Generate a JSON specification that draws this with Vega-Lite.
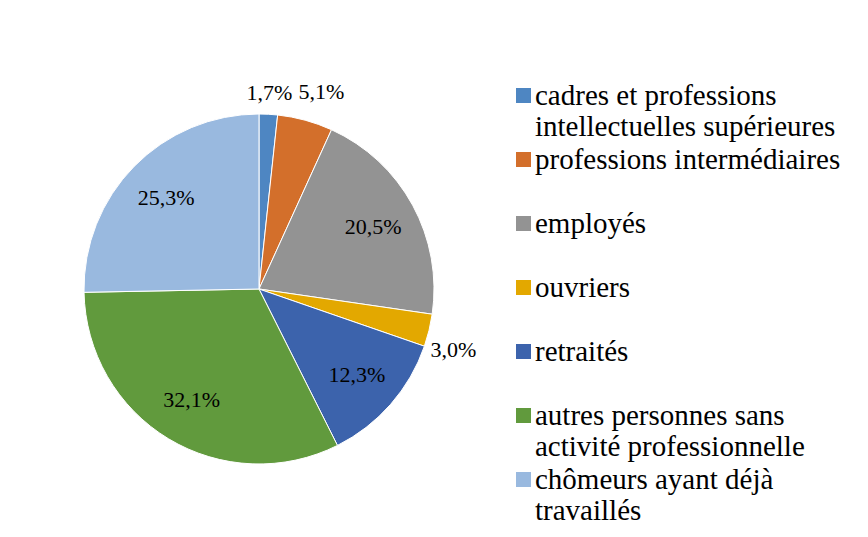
{
  "$schema": "https://vega.github.io/schema/vega-lite/v6.json",
  "width": 350,
  "height": 350,
  "autosize": {"type": "none"},
  "padding": {"left": 84, "top": 114, "right": 434, "bottom": 73},
  "background": "white",
  "config": {"view": {"stroke": null}, "font": "Liberation Serif, DejaVu Serif, serif"},
  "data": {
    "values": [
      {"categorie": "cadres et professions intellectuelles supérieures", "pct": 1.7, "etiquette": "1,7%", "rang": 1},
      {"categorie": "professions intermédiaires", "pct": 5.1, "etiquette": "5,1%", "rang": 2},
      {"categorie": "employés", "pct": 20.5, "etiquette": "20,5%", "rang": 3},
      {"categorie": "ouvriers", "pct": 3.0, "etiquette": "3,0%", "rang": 4},
      {"categorie": "retraités", "pct": 12.3, "etiquette": "12,3%", "rang": 5},
      {"categorie": "autres personnes sans activité professionnelle", "pct": 32.1, "etiquette": "32,1%", "rang": 6},
      {"categorie": "chômeurs ayant déjà travaillés", "pct": 25.3, "etiquette": "25,3%", "rang": 7}
    ]
  },
  "encoding": {
    "theta": {"field": "pct", "type": "quantitative", "stack": true},
    "order": {"field": "rang", "type": "quantitative"}
  },
  "layer": [
    {
      "mark": {"type": "arc", "stroke": "white", "strokeWidth": 1},
      "encoding": {
        "color": {
          "field": "categorie",
          "type": "nominal",
          "sort": null,
          "scale": {
            "domain": ["cadres et professions intellectuelles supérieures", "professions intermédiaires", "employés", "ouvriers", "retraités", "autres personnes sans activité professionnelle", "chômeurs ayant déjà travaillés"],
            "range": ["#4E86C2", "#D36F2B", "#939393", "#E3A800", "#3C63AC", "#619A3D", "#99B9DF"]
          },
          "legend": {
            "title": null,
            "orient": "none",
            "legendX": 425,
            "legendY": -33,
            "padding": 0,
            "symbolType": "square",
            "symbolSize": 225,
            "symbolStrokeWidth": 0,
            "labelFont": "Liberation Serif, DejaVu Serif, serif",
            "labelFontSize": 29,
            "labelColor": "#000000",
            "labelLimit": 400,
            "labelOffset": -3,
            "labelBaseline": "middle",
            "rowPadding": 3,
            "labelExpr": "datum.label == 'cadres et professions intellectuelles supérieures' ? ['cadres et professions', 'intellectuelles supérieures'] : datum.label == 'autres personnes sans activité professionnelle' ? ['autres personnes sans', 'activité professionnelle'] : datum.label == 'chômeurs ayant déjà travaillés' ? ['chômeurs ayant déjà', 'travaillés'] : [datum.label, '']",
            "encode": {"labels": {"update": {"dy": {"value": 15.5}}}}
          }
        }
      }
    },
    {
      "mark": {"type": "text", "radius": 130, "font": "Liberation Serif, DejaVu Serif, serif", "fontSize": 22, "color": "#000000"},
      "encoding": {
        "text": {"condition": {"test": "datum.pct >= 10", "field": "etiquette"}, "value": ""}
      }
    },
    {
      "mark": {"type": "text", "radius": 196, "font": "Liberation Serif, DejaVu Serif, serif", "fontSize": 22, "color": "#000000"},
      "encoding": {
        "text": {"condition": {"test": "datum.pct < 2", "field": "etiquette"}, "value": ""}
      }
    },
    {
      "mark": {"type": "text", "radius": 206, "dx": 8, "dy": 2, "font": "Liberation Serif, DejaVu Serif, serif", "fontSize": 22, "color": "#000000"},
      "encoding": {
        "text": {"condition": {"test": "datum.pct >= 5 && datum.pct < 10", "field": "etiquette"}, "value": ""}
      }
    },
    {
      "mark": {"type": "text", "radius": 200, "dy": 14, "font": "Liberation Serif, DejaVu Serif, serif", "fontSize": 22, "color": "#000000"},
      "encoding": {
        "text": {"condition": {"test": "datum.pct >= 2 && datum.pct < 5", "field": "etiquette"}, "value": ""}
      }
    }
  ]
}
